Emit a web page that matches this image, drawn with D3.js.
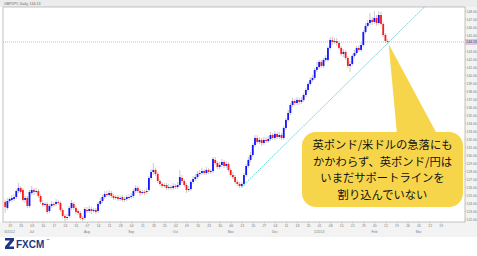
<!DOCTYPE html>
<html lang="ja">
<head>
<meta charset="utf-8">
<title>GBPJPY Daily – サポートライン</title>
<style>
  html,body { margin:0; padding:0; overflow:hidden; background:#fff; }
  svg { display:block; }
  .ax text { font-family:"Liberation Sans",Arial,sans-serif; font-size:3.4px; fill:#7a7a7a; }
  .ax line { stroke:#e39aa6; stroke-width:0.6; }
  .ax path { display:none; }
</style>
<script src="https://d3js.org/d3.v7.min.js"></script>
</head>
<body>
<svg width="477" height="256"></svg>
<script>
/* ---------------- DATA ---------------- */
// daily candles, [open, high, low, close]
const candles = [
  [124.13,124.38,122.75,123.50],[123.38,124.63,123.13,124.25],[124.25,124.75,124.00,124.50],[124.38,125.00,124.13,124.63],
  [124.50,125.13,124.25,124.75],[124.75,125.75,124.50,125.50],[125.50,126.50,125.25,125.88],[125.88,126.13,125.13,125.38],
  [125.63,125.88,124.13,124.38],[124.38,124.88,124.00,124.63],[124.63,124.88,123.38,123.63],[123.63,125.63,123.38,125.38],
  [125.25,126.13,125.00,125.63],[125.63,125.88,125.00,125.38],[125.38,125.88,125.13,125.50],[125.50,125.75,124.63,124.88],
  [124.88,125.13,123.88,124.13],[124.00,124.38,123.50,123.75],[123.75,124.13,123.50,123.88],[123.88,124.13,122.63,122.88],
  [123.00,123.88,122.75,123.63],[123.63,124.25,123.38,123.88],[123.88,124.13,123.50,123.75],[123.88,124.50,123.63,124.13],
  [124.13,124.38,123.75,124.00],[124.00,124.25,122.88,123.13],[123.13,123.38,122.13,122.38],[122.38,122.63,121.75,122.13],
  [122.13,122.63,121.88,122.25],[122.38,123.63,122.13,123.38],[123.38,124.38,123.13,124.00],[123.88,124.13,123.13,123.38],
  [123.38,123.63,122.63,122.88],[123.00,123.25,122.50,122.75],[122.75,123.00,121.88,122.13],[122.13,122.38,121.75,122.00],
  [122.13,123.50,121.88,123.25],[123.13,123.50,122.75,123.00],[123.00,123.63,122.75,123.25],[123.25,123.50,122.63,123.00],
  [123.00,123.38,122.75,123.13],[123.13,123.38,122.63,122.88],[123.00,124.13,122.75,123.88],[123.88,124.63,123.63,124.25],
  [124.25,125.00,124.00,124.75],[124.75,125.50,124.50,125.13],[125.13,125.50,124.75,125.00],[125.00,125.63,124.75,125.25],
  [125.25,125.50,124.63,124.88],[124.88,125.13,124.38,124.63],[124.63,125.00,124.38,124.75],[124.75,125.00,124.25,124.50],
  [124.50,124.88,124.25,124.63],[124.75,125.00,124.13,124.38],[124.38,124.75,124.13,124.50],[124.50,125.00,124.25,124.75],
  [124.63,125.13,124.38,124.75],[124.75,125.25,124.50,124.88],[124.88,125.75,124.63,125.50],[125.50,126.25,125.25,125.88],
  [125.88,126.13,125.25,125.50],[125.50,125.75,124.88,125.25],[125.25,125.63,125.00,125.38],[125.38,125.63,125.00,125.25],
  [125.38,125.88,125.13,125.50],[125.63,127.38,125.38,127.13],[127.13,128.25,126.88,127.88],[127.88,129.00,127.50,128.13],
  [128.13,128.38,127.38,127.63],[127.63,127.88,126.50,126.75],[126.75,127.00,126.13,126.38],[126.38,126.63,125.88,126.13],
  [126.13,126.50,125.88,126.25],[126.25,126.50,125.63,125.88],[125.88,126.38,125.63,126.00],[126.00,126.25,125.63,125.88],
  [125.88,126.50,125.63,126.13],[126.13,126.38,125.75,126.00],[126.00,126.63,125.75,126.25],[126.25,128.13,126.00,127.25],
  [127.13,127.50,126.50,126.75],[126.75,127.00,126.00,126.25],[126.25,126.50,125.25,125.63],[125.63,126.13,125.38,125.75],
  [125.75,126.88,125.50,126.63],[126.63,127.38,126.38,127.00],[127.00,127.63,126.75,127.25],[127.25,128.00,127.00,127.63],
  [127.63,128.13,127.38,127.75],[127.75,128.38,127.50,128.00],[128.00,128.25,127.50,127.75],[127.75,128.50,127.50,128.13],
  [128.13,128.38,127.63,127.88],[127.88,128.25,127.63,128.00],[128.00,129.75,127.75,129.50],[129.38,129.75,128.75,129.00],
  [129.00,129.25,128.25,128.50],[128.50,129.13,128.25,128.75],[128.75,129.50,128.50,129.13],[129.13,129.38,128.38,128.63],
  [128.63,129.25,128.38,128.88],[128.88,129.13,127.88,128.13],[128.13,128.38,127.25,127.50],[127.50,127.88,127.00,127.25],
  [127.25,127.50,126.38,126.63],[126.63,126.88,126.13,126.38],[126.38,126.63,125.88,126.13],[126.13,126.63,125.88,126.38],
  [126.38,127.75,126.13,127.50],[127.50,128.88,127.25,128.63],[128.63,129.75,128.38,129.38],[129.38,130.38,129.13,130.00],
  [130.00,131.50,129.75,131.25],[131.25,132.50,131.00,132.13],[132.13,132.50,131.38,131.63],[131.63,132.25,131.38,131.88],
  [131.88,132.13,131.13,131.50],[131.50,132.25,131.25,131.88],[131.88,132.25,131.50,131.75],[131.75,132.38,131.50,132.00],
  [132.00,132.88,131.75,132.50],[132.50,132.75,131.88,132.13],[132.13,133.00,131.88,132.63],[132.63,132.88,132.00,132.25],
  [132.25,132.88,132.00,132.50],[132.50,132.75,131.88,132.13],[132.13,133.63,131.88,133.38],[133.38,134.63,133.13,134.38],
  [134.38,135.63,134.13,135.25],[135.25,136.50,135.00,136.25],[136.25,137.13,136.00,136.75],[136.75,137.00,136.13,136.50],
  [136.50,137.25,136.25,136.88],[136.88,137.13,136.25,136.63],[136.63,137.25,136.38,136.88],[136.88,137.75,136.63,137.50],
  [137.50,138.38,137.25,138.13],[138.13,139.13,137.88,138.88],[138.88,139.75,138.63,139.38],[139.38,140.00,139.13,139.63],
  [139.63,140.88,139.38,140.63],[140.63,141.63,140.38,141.00],[141.00,141.88,140.75,141.63],[141.63,141.88,140.88,141.13],
  [141.13,142.13,140.88,141.88],[141.88,142.50,141.63,142.13],[141.88,143.63,141.63,143.38],[143.38,144.75,143.13,144.38],
  [144.38,144.75,143.75,144.13],[144.13,144.63,143.88,144.25],[144.25,144.63,143.63,144.00],[144.00,144.25,143.13,143.38],
  [143.38,143.63,142.38,142.63],[142.63,143.25,142.25,142.88],[142.88,143.13,141.88,142.13],[142.13,142.38,140.88,141.13],
  [141.13,141.75,140.38,141.38],[141.38,142.63,141.13,142.38],[142.38,143.13,142.13,142.75],[142.75,143.63,142.50,143.38],
  [143.38,143.75,142.88,143.13],[143.13,144.13,142.88,143.75],[143.75,145.63,143.50,145.38],[145.38,146.50,145.13,146.13],
  [146.13,146.88,145.88,146.50],[146.50,147.75,146.25,146.88],[146.88,147.25,146.25,146.63],[146.63,148.00,146.38,147.13],
  [147.13,147.50,146.13,146.50],[146.50,148.00,146.25,147.50],[147.50,147.88,146.13,146.38],[146.38,146.63,144.75,145.00],
  [145.00,145.25,144.00,144.25],[144.25,144.50,143.88,144.13]
];

// support line drawn on the chart: [bar, price]
const trendLine = [[107, 126.0], [190, 148.6]];

// price axis labels
const priceTicks = [122,123,124,125,126,127,128,129,130,131,132,133,134,
                    135,136,137,138,139,140,141,142,143,145,146,147,148];

// weekly date ticks: [bar, day]
const dayTicks = [
  [2,"19"],[7,"26"],[12,"03"],[17,"10"],[22,"17"],[27,"24"],[32,"31"],[37,"07"],[42,"14"],[47,"21"],
  [52,"28"],[57,"04"],[62,"11"],[67,"18"],[72,"25"],[77,"02"],[82,"09"],[87,"16"],[92,"23"],[97,"30"],
  [102,"06"],[107,"13"],[112,"20"],[117,"27"],[122,"04"],[127,"11"],[132,"18"],[137,"25"],[142,"01"],[147,"08"],
  [152,"15"],[157,"22"],[162,"29"],[167,"05"],[172,"12"],[177,"19"],[182,"26"],[187,"05"],[192,"12"],[197,"19"]
];
const monthTicks = [
  [2,"6/2012"],[12,"Jul"],[37,"Aug"],[57,"Sep"],[77,"Oct"],[102,"Nov"],
  [122,"Dec"],[142,"1/2013"],[167,"Feb"],[187,"Mar"]
];

const note = ["英ポンド/米ドルの急落にも", "かかわらず、英ポンド/円は",
              "いまだサポートラインを", "割り込んでいない"];

/* ---------------- SCALES ---------------- */
const W = 477, H = 256;
const plot = {l:3, r:465, t:7, b:222};
const x = d3.scaleLinear().domain([-1, 208]).range([plot.l, plot.r]);
const y = d3.scaleLinear().domain([121.625, 148.5]).range([plot.b, plot.t]);
const svg = d3.select("svg");

/* ---------------- FRAME ---------------- */
svg.append("rect").attr("width", W).attr("height", H).attr("fill", "#fff");
svg.append("rect").attr("width", W).attr("height", plot.t).attr("fill", "#ececec");
svg.append("rect").attr("x", plot.r).attr("y", plot.t).attr("width", W - plot.r).attr("height", plot.b - plot.t + 15).attr("fill", "#f3f3f3");
svg.append("rect").attr("x", 0).attr("y", plot.b).attr("width", W).attr("height", 15).attr("fill", "#f3f3f3");
svg.append("rect")
   .attr("x", plot.l).attr("y", plot.t)
   .attr("width", plot.r - plot.l).attr("height", plot.b - plot.t)
   .attr("fill", "#fff").attr("stroke", "#a8a8a8").attr("stroke-width", 0.7);

svg.append("text").attr("x", 4).attr("y", 5)
   .style("font", "3.6px 'Liberation Sans'").attr("fill", "#666")
   .text("GBPJPY, Daily, 144.13");

/* current price line */
const last = candles[candles.length - 1][3];
svg.append("line")
   .attr("x1", plot.l).attr("x2", plot.r)
   .attr("y1", y(last)).attr("y2", y(last))
   .attr("stroke", "#9f9fe6").attr("stroke-width", 0.7).attr("stroke-dasharray", "1,1");

/* ---------------- CANDLES ---------------- */
const g = svg.append("g");
g.selectAll("line.wick").data(candles).join("line")
  .attr("class", "wick")
  .attr("x1", (d, i) => x(i)).attr("x2", (d, i) => x(i))
  .attr("y1", d => y(d[1])).attr("y2", d => y(d[2]))
  .attr("stroke", "#bdbdbd").attr("stroke-width", 0.8);

g.selectAll("rect.body").data(candles).join("rect")
  .attr("class", "body")
  .attr("x", (d, i) => x(i) - 0.9).attr("width", 1.8)
  .attr("y", d => y(Math.max(d[0], d[3])))
  .attr("height", d => Math.max(0.7, Math.abs(y(d[0]) - y(d[3]))))
  .attr("fill", d => d[3] >= d[0] ? "#1414ff" : "#ff1a1a");

/* support line */
svg.append("line")
   .attr("x1", x(trendLine[0][0])).attr("y1", y(trendLine[0][1]))
   .attr("x2", x(trendLine[1][0])).attr("y2", y(trendLine[1][1]))
   .attr("stroke", "#3cc4c8").attr("stroke-width", 0.9).attr("stroke-dasharray", "1.6,1.2");

/* ---------------- AXES ---------------- */
svg.append("g").attr("class", "ax")
  .attr("transform", `translate(${plot.r},0)`)
  .call(d3.axisRight(y).tickValues(priceTicks).tickSize(1.2).tickPadding(0.4).tickFormat(d3.format(".2f")));

svg.append("rect")
   .attr("x", plot.r + 0.6).attr("y", y(last) - 2.4).attr("width", 11.2).attr("height", 4.8)
   .attr("fill", "#cfc8f2").attr("stroke", "#e39aa6").attr("stroke-width", 0.4);
svg.append("text")
   .attr("x", plot.r + 1.3).attr("y", y(last) + 1.2)
   .style("font", "3.4px 'Liberation Sans'").attr("fill", "#444")
   .text(d3.format(".2f")(last));

const xAx = svg.append("g").attr("class", "ax")
  .attr("transform", `translate(0,${plot.b})`)
  .call(d3.axisBottom(x).tickValues(dayTicks.map(d => d[0])).tickSize(1.5).tickPadding(1)
        .tickFormat((d, i) => dayTicks[i][1]));
xAx.selectAll("text").attr("dy", "0.6em");

svg.append("g").attr("class", "ax")
  .selectAll("text").data(monthTicks).join("text")
  .attr("x", d => x(d[0])).attr("y", plot.b + 11)
  .attr("text-anchor", "middle")
  .text(d => d[1]);

/* ---------------- CALLOUT ---------------- */
const tip = [x(173) + 1, y(last) + 2];
const box = {x:302, y:132, w:161, h:75};
svg.append("path")
   .attr("d", `M${tip[0]},${tip[1]} L${box.x + 95},${box.y + 2} L${box.x + 135},${box.y + 2} Z`)
   .attr("fill", "#f7d54b");
svg.append("rect")
   .attr("x", box.x).attr("y", box.y).attr("width", box.w).attr("height", box.h)
   .attr("rx", 14).attr("fill", "#f7d54b");

svg.append("g").selectAll("text").data(note).join("text")
   .attr("x", box.x + box.w / 2)
   .attr("y", (d, i) => box.y + 17 + i * 16.7)
   .attr("text-anchor", "middle")
   .style("font-family", "'Noto Sans CJK JP', sans-serif")
   .style("font-size", "11.3px")
   .attr("fill", "#111")
   .text(d => d);

/* ---------------- LOGO ---------------- */
const logo = svg.append("g").attr("transform", "translate(5,238)");
logo.append("path")
   .attr("d", "M0,0 L9,0 L9,2.6 L4,8.5 L9,8.5 L9,11 L0,11 L0,8.4 L5,2.6 L0,2.6 Z")
   .attr("fill", "#1d3585");
logo.append("text").attr("x", 11).attr("y", 10)
   .style("font", "bold 10px 'Liberation Sans', Arial, sans-serif")
   .attr("fill", "#1d3585").text("FXCM");
logo.append("text").attr("x", 41).attr("y", 4)
   .style("font", "4px 'DejaVu Sans'").attr("fill", "#1d3585").text("™");
</script>
</body>
</html>
